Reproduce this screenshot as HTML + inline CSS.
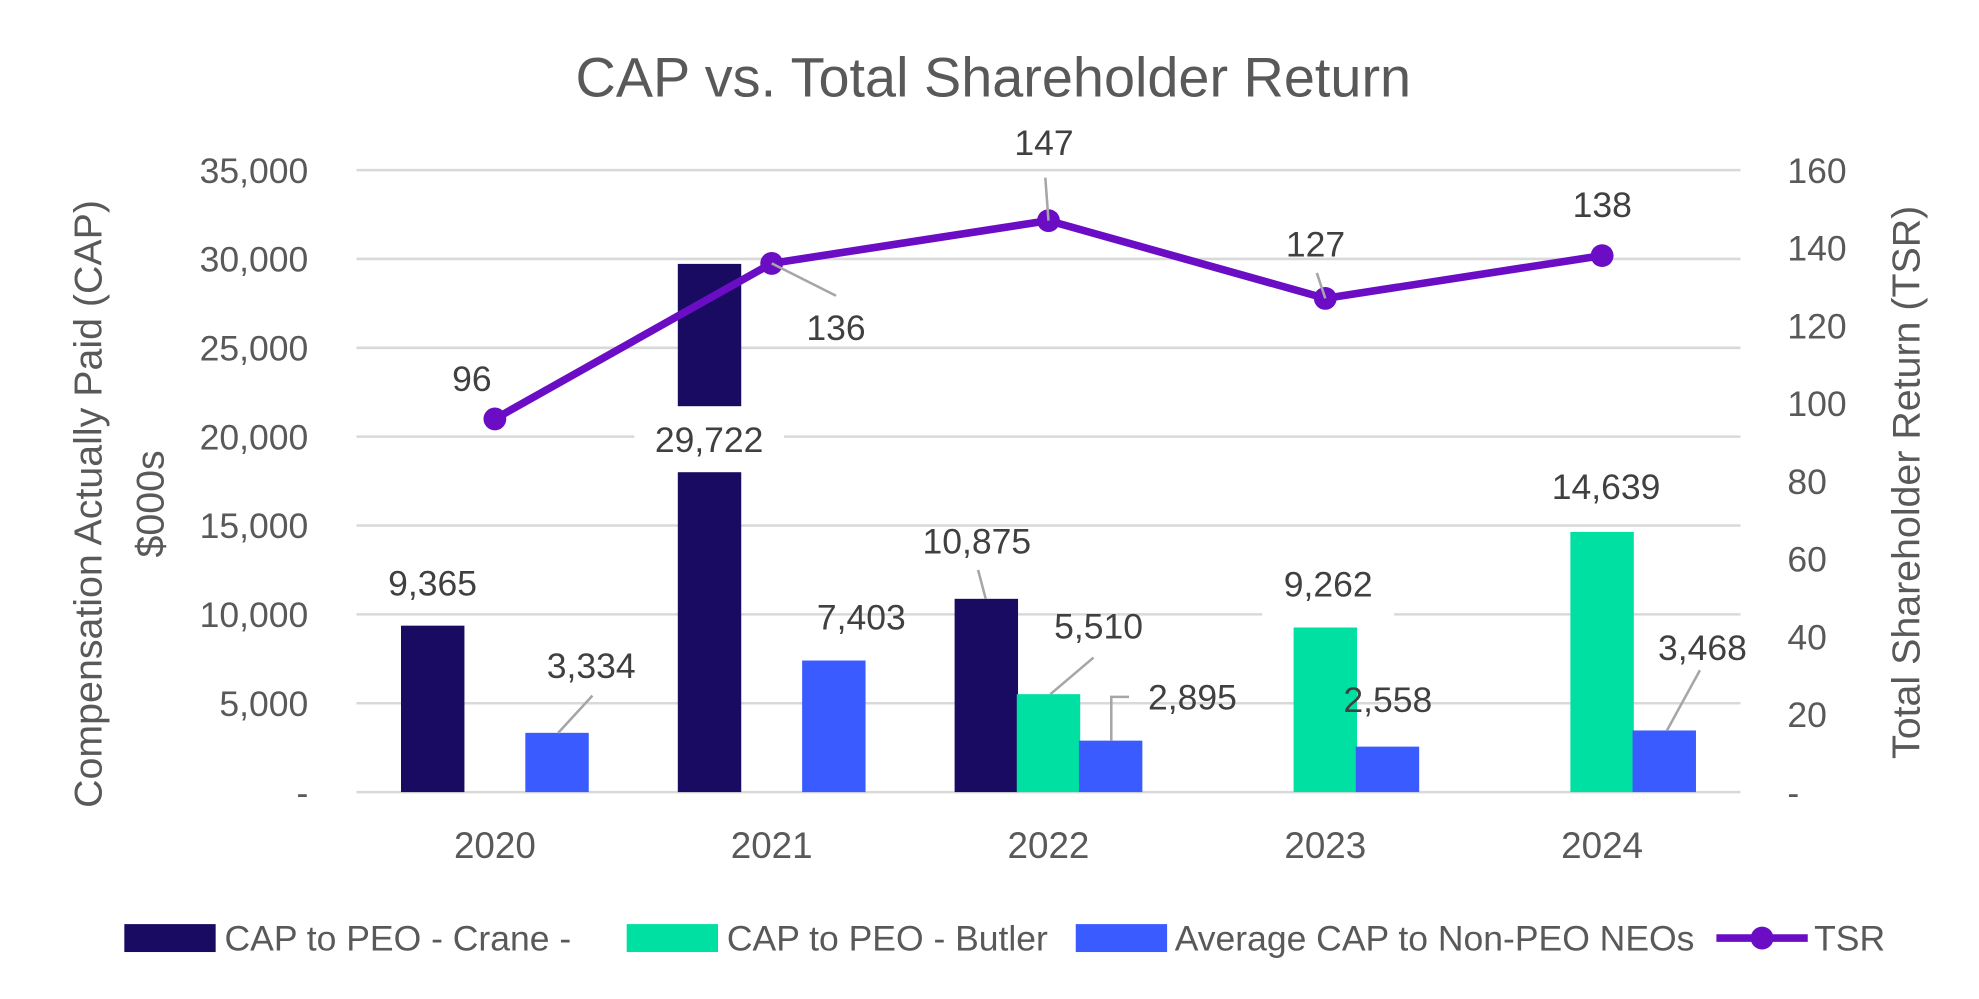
<!DOCTYPE html>
<html><head><meta charset="utf-8"><style>
html,body{margin:0;padding:0;background:#fff;}
svg{display:block;font-family:"Liberation Sans",sans-serif;}
</style></head><body>
<svg id="chart" width="1979" height="999" viewBox="0 0 1560 787" preserveAspectRatio="none" xmlns="http://www.w3.org/2000/svg">
<text x="783" y="76" text-anchor="middle" font-size="44" fill="#595959">CAP vs. Total Shareholder Return</text>
<g id="grid"></g><g id="bars"></g><g id="line"></g><g id="labels"></g>
<text transform="translate(80,397) rotate(-90)" text-anchor="middle" font-size="31" fill="#595959">Compensation Actually Paid (CAP)</text>
<text transform="translate(129,397) rotate(-90)" text-anchor="middle" font-size="31" fill="#595959">$000s</text>
<text transform="translate(1513,380) rotate(-90)" text-anchor="middle" font-size="31" fill="#595959">Total Shareholder Return (TSR)</text>
<g font-size="28" fill="#595959">
<rect x="98" y="728" width="72" height="22" fill="#190b61"/>
<text x="177" y="749">CAP to PEO - Crane  -</text>
<rect x="494" y="728" width="72" height="22" fill="#00e0a2"/>
<text x="573" y="749">CAP to PEO - Butler</text>
<rect x="848" y="728" width="72" height="22" fill="#3a5bff"/>
<text x="926" y="749">Average CAP to Non-PEO NEOs</text>
<line x1="1353" y1="739" x2="1425" y2="739" stroke="#6a0dc4" stroke-width="6"/>
<circle cx="1389" cy="739" r="9" fill="#6a0dc4"/>
<text x="1430" y="749">TSR</text>
</g>
</svg>
<script>
const years=["2020","2021","2022","2023","2024"];
const crane=[9365,29722,10875,null,null];
const butler=[null,null,5510,9262,14639];
const avgNeo=[3334,7403,2895,2558,3468];
const tsr=[96,136,147,127,138];
const leftTicks=[0,5000,10000,15000,20000,25000,30000,35000];
const rightTicks=[0,20,40,60,80,100,120,140,160];
const NS="http://www.w3.org/2000/svg";
const X0=281,BAND=218.2,Y0=624,YT=134;
const yL=v=>Y0-(v/35000)*(Y0-YT);
const yR=v=>Y0-(v/160)*(Y0-YT);
const xC=i=>X0+BAND*(i+0.5);
function mk(tag,attrs,parent){const e=document.createElementNS(NS,tag);for(const k in attrs)e.setAttribute(k,attrs[k]);document.getElementById(parent).appendChild(e);return e;}
const fmt=v=>v.toLocaleString("en-US");
leftTicks.forEach(t=>{
 const l=mk("line",{x1:X0,x2:1372,y1:yL(t),y2:yL(t),stroke:"#d9d9d9","stroke-width":2},"grid");
 
 
 const tx=mk("text",{x:243,y:yL(t)+10,"text-anchor":"end","font-size":28,fill:"#595959"},"grid");
 tx.textContent=t===0?"-":fmt(t);
 
 
});
rightTicks.forEach(t=>{
 const tx=mk("text",{x:1409,y:yR(t)+10,"font-size":28,fill:"#595959"},"grid");
 tx.textContent=t===0?"-":String(t);
 
 
});
years.forEach((y,i)=>{
 const tx=mk("text",{x:xC(i),y:676,"text-anchor":"middle","font-size":29,fill:"#595959"},"grid");
 tx.textContent=y;
 
 
});
const series=[[crane,"#190b61",-74,"crane"],[butler,"#00e0a2",-25,"butler"],[avgNeo,"#3a5bff",24,"avg-neo"]];
series.forEach(([arr,col,off,nm])=>{
 arr.forEach((v,i)=>{
  if(v==null)return;
  const r=mk("rect",{x:xC(i)+off,y:yL(v),width:50,height:Y0-yL(v),fill:col},"bars");
  
  
 });
});
const pts=tsr.map((v,i)=>xC(i)+","+yR(v)).join(" ");
const pl=mk("polyline",{points:pts,fill:"none",stroke:"#6a0dc4","stroke-width":6,"stroke-linejoin":"round"},"line");


tsr.forEach((v,i)=>{
 const c=mk("circle",{cx:xC(i),cy:yR(v),r:9,fill:"#6a0dc4"},"line");
 
 
});
function lbl(text,x,y,bg,name){
 if(bg){const r=mk("rect",{x:x-bg/2,y:y-26,width:bg,height:52,fill:"#fff"},"labels");
  
  }
 const t=mk("text",{x:x,y:y+10,"text-anchor":"middle","font-size":28,fill:"#404040"},"labels");
 t.textContent=text;
 
 
}
function lead(pts){const p=mk("polyline",{points:pts,fill:"none",stroke:"#a6a6a6","stroke-width":2},"labels");
 
 }
lead(xC(1)+","+yR(tsr[1])+" 659,233");
lead(xC(2)+","+yR(tsr[2])+" 824,140");
lead(xC(3)+","+yR(tsr[3])+" 1038,215");
lbl(String(tsr[0]),372,298,0,"tsr-label-2020");
lbl(String(tsr[1]),659,258,0,"tsr-label-2021");
lbl(String(tsr[2]),823,112,0,"tsr-label-2022");
lbl(String(tsr[3]),1037,192,0,"tsr-label-2023");
lbl(String(tsr[4]),1263,161,0,"tsr-label-2024");
lead("440,"+yL(avgNeo[0])+" 467,548");
lead("777,"+yL(crane[2])+" 771,449");
lead("828,"+yL(butler[2])+" 862,518");
lead("876,"+yL(avgNeo[2])+" 876,549 890,549");
lead("1314,"+yL(avgNeo[4])+" 1340,528");
lbl(fmt(crane[0]),341,459,0,"label-crane-2020");
lbl(fmt(avgNeo[0]),466,524,0,"label-avg-2020");
lbl(fmt(crane[1]),559,346,118,"label-crane-2021");
lbl(fmt(avgNeo[1]),679,486,0,"label-avg-2021");
lbl(fmt(crane[2]),770,426,0,"label-crane-2022");
lbl(fmt(butler[2]),866,493,0,"label-butler-2022");
lbl(fmt(avgNeo[2]),940,549,0,"label-avg-2022");
lbl(fmt(butler[3]),1047,460,104,"label-butler-2023");
lbl(fmt(avgNeo[3]),1094,551,0,"label-avg-2023");
lbl(fmt(butler[4]),1266,383,0,"label-butler-2024");
lbl(fmt(avgNeo[4]),1342,510,0,"label-avg-2024");
</script>
</body></html>
